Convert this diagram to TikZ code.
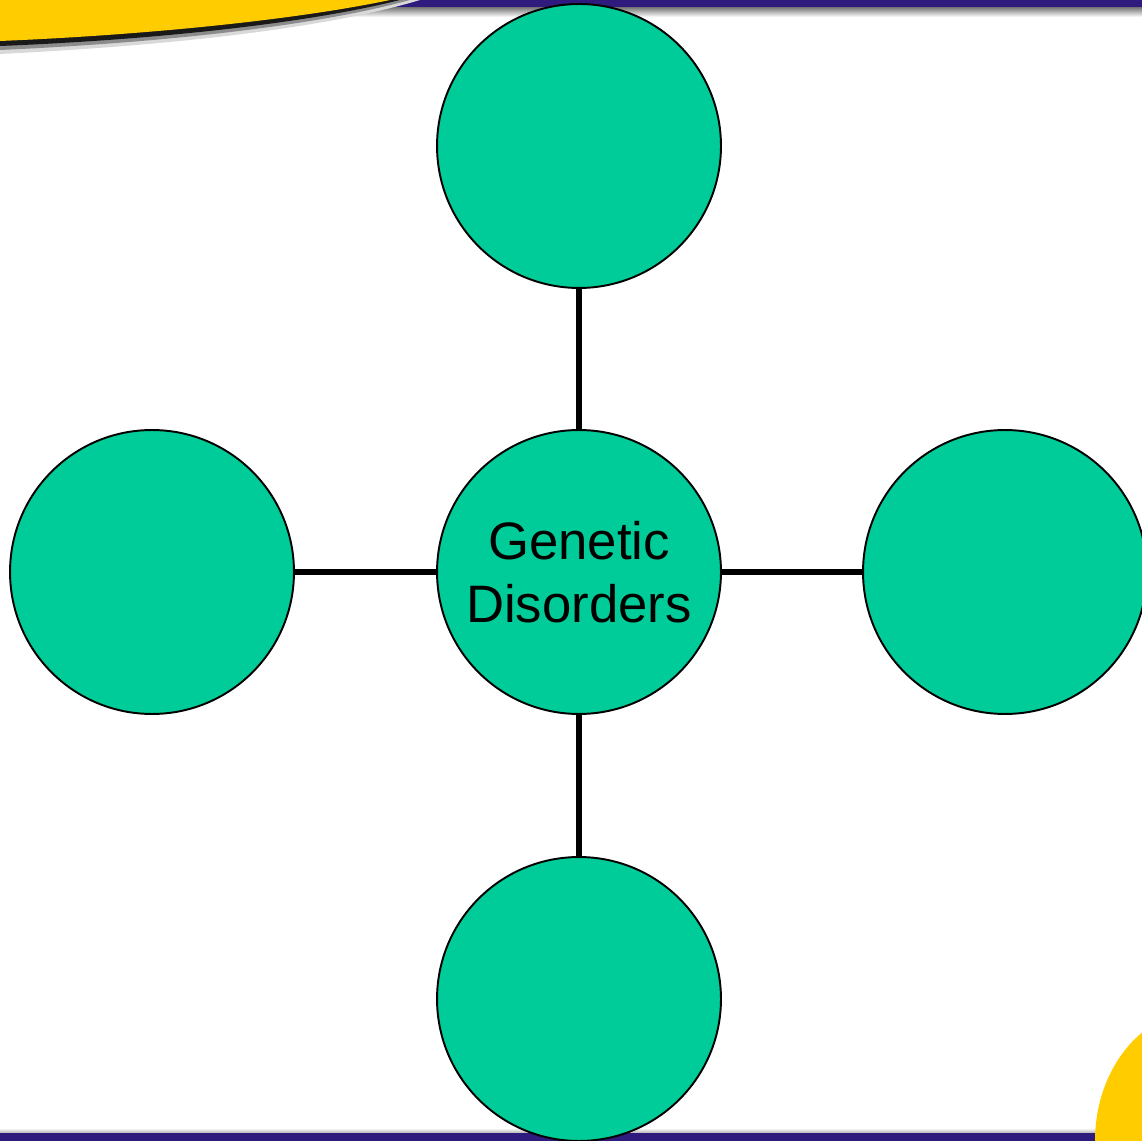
\documentclass[tikz,border=0pt]{standalone}
\usepackage{fontspec}
\setmainfont{Liberation Sans}
\definecolor{discgreen}{HTML}{00CC99}
\definecolor{barpurple}{HTML}{2F1A7E}
\definecolor{swoosh}{HTML}{FFCC00}
\tikzset{
  disc/.style={circle, draw=black, line width=1.1pt, fill=discgreen,
    minimum size=5.68cm, inner sep=0pt, align=center,
    font=\fontsize{30}{36}\selectfont},
  link/.style={line width=3.5pt, black}
}
\begin{document}
\begin{tikzpicture}[x=0.02cm, y=-0.02cm]
    \useasboundingbox (0,0) rectangle (1142,1141);
    \clip (0,0) rectangle (1142,1141);
    % slide background
    \fill[white] (0,0) rectangle (1142,1141);
    \shade[top color=black!55, bottom color=white] (0,7) rectangle (1142,17);
    \fill[barpurple] (0,0) rectangle (1142,7);
    \shade[top color=white, bottom color=black!30] (0,1128) rectangle (1142,1133);
    \fill[barpurple] (0,1133) rectangle (1142,1141);
    % yellow swoosh, top left
    \fill[black!15] (0,0) -- (420,0) .. controls (320,30) and (160,46) .. (0,54) -- cycle;
    \fill[black!45] (0,0) -- (410,0) .. controls (312,27) and (155,43) .. (0,50) -- cycle;
    \fill[black!90] (0,0) -- (400,0) .. controls (305,24) and (150,40) .. (0,46) -- cycle;
    \fill[swoosh] (0,0) -- (390,0) .. controls (295,20) and (145,35) .. (0,41) -- cycle;
    % yellow blob, bottom right
    \fill[swoosh] (1200,1141) ellipse [x radius=105, y radius=130];
    % the five discs
    \node[disc] (hub) at (579,572) {Genetic\\Disorders};
    \node[disc] (up) at (579,146) {};
    \node[disc] (down) at (579,999) {};
    \node[disc] (left) at (152,572) {};
    \node[disc] (right) at (1005,572) {};
    \draw[link] (hub) -- (up);
    \draw[link] (hub) -- (down);
    \draw[link] (hub) -- (left);
    \draw[link] (hub) -- (right);
\end{tikzpicture}
\end{document}
